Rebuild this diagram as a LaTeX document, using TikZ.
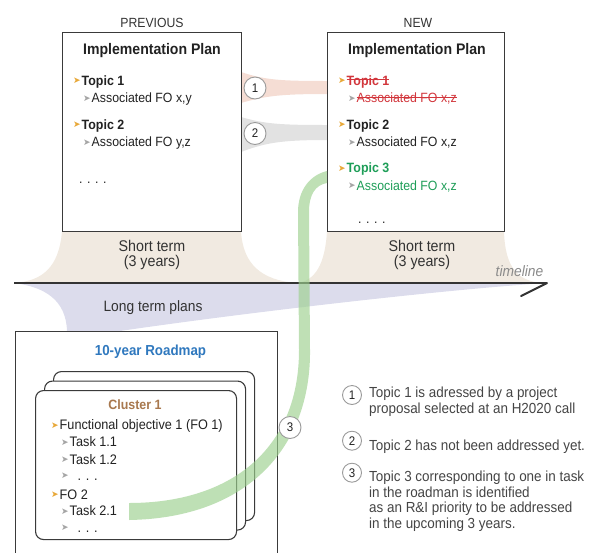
\documentclass[tikz,border=0pt]{standalone}
\usepackage{fontspec}
\setmainfont[FakeStretch=0.92]{Liberation Sans}
\newfontfamily\arrowfont{DejaVu Sans}

\definecolor{txt}{HTML}{222222}
\definecolor{boxline}{HTML}{3A3A3A}
\definecolor{beige}{HTML}{F1EAE1}
\definecolor{lav}{HTML}{DCDCEC}
\definecolor{pinkband}{HTML}{F5DDD4}
\definecolor{grayband}{HTML}{E2E2E2}
\definecolor{greenband}{HTML}{9CD08E}
\definecolor{axis}{HTML}{333333}
\definecolor{gold}{HTML}{E8A838}
\definecolor{bulgray}{HTML}{A5A5A5}
\definecolor{dropred}{HTML}{D2363C}
\definecolor{newgreen}{HTML}{1E9E58}
\definecolor{mapblue}{HTML}{2F78BE}
\definecolor{clbrown}{HTML}{A8784E}
\definecolor{legendtxt}{HTML}{444444}
\definecolor{numline}{HTML}{9A9A9A}
\definecolor{tlgray}{HTML}{8A8A8A}

\newcommand{\fsz}[1]{\fontsize{#1}{#1}\selectfont}
\newcommand{\bul}[1]{\raisebox{1.2pt}{\arrowfont\fontsize{9}{9}\selectfont\textcolor{#1}{➤}}\kern1pt}
\newlength{\strikelen}
\newcommand{\strike}[1]{\settowidth{\strikelen}{#1}\rlap{\rule[0.36em]{\strikelen}{0.9pt}}#1}

\begin{document}
\begin{tikzpicture}[x=1pt, y=-1pt]
        \tikzstyle{every node}=[inner sep=0pt, text=txt]
        \tikzstyle{planbox}=[draw=boxline, line width=0.9pt, fill=white, anchor=north west, minimum height=199pt]
        \tikzstyle{card}=[draw=boxline, line width=1.1pt, fill=white, rounded corners=8pt, anchor=north west, minimum width=201pt, minimum height=149pt]
        \tikzstyle{num}=[circle, draw=numline, line width=0.9pt, fill=white, minimum size=22pt, font=\fsz{12.5}]
        \tikzstyle{item}=[anchor=base west, font=\fsz{13.4}]
        \tikzstyle{topic}=[anchor=base west, font=\bfseries\fsz{13.5}]
        \tikzstyle{task}=[anchor=base west, font=\fsz{13.8}]
        \tikzstyle{title}=[anchor=base, font=\bfseries\fsz{15.3}]
        \tikzstyle{term}=[anchor=base, font=\fsz{15.5}, text=axis]
        \tikzstyle{legend}=[anchor=base west, align=left, font=\fontsize{14.6}{15.5}\selectfont, text=legendtxt]

        \useasboundingbox (0,0) rectangle (599,552);

% Short term / long term areas around the timeline, then the topic bands
        \fill[beige] (62,231) -- (241,231) .. controls (243,265) and (262,280) .. (296,283) -- (14,283) .. controls (42,281) and (59,268) .. (62,231) -- cycle;
        \fill[beige] (327,231) -- (504,231) .. controls (505,268) and (518,281) .. (542,283) -- (298,283) .. controls (315,280) and (325,265) .. (327,231) -- cycle;
        \fill[lav] (14,283) -- (547,283) .. controls (450,289) and (250,312) .. (120,331) -- (67,331) .. controls (66,300) and (45,287) .. (14,283) -- cycle;
        \fill[pinkband] (241,72) .. controls (265,80) and (280,81) .. (327,81) -- (327,94) .. controls (280,94) and (265,96) .. (241,103) -- cycle;
        \fill[grayband] (241,117) .. controls (265,124) and (280,125) .. (327,125) -- (327,140) .. controls (280,140) and (265,143) .. (241,152) -- cycle;

        \node[anchor=base, font=\fsz{13.3}, text=axis] (prevlbl) at (152,27) {PREVIOUS};
        \node[anchor=base, font=\fsz{13.3}, text=axis] (newlbl) at (418,27) {NEW};
        \node[planbox, minimum width=179pt] (prev) at (62,32) {};
        \node[planbox, minimum width=177pt] (new) at (327,32) {};

        \node[title] (prevtitle) at (152,54) {Implementation Plan};
        \node[topic] (pt1) at (73,85) {\bul{gold}Topic 1};
        \node[item] (pf1) at (83,102.7) {\bul{bulgray}Associated FO x,y};
        \node[topic] (pt2) at (73,129) {\bul{gold}Topic 2};
        \node[item] (pf2) at (83,146.7) {\bul{bulgray}Associated FO y,z};
        \node[item] (pdots) at (79,183) {. . . .};

        \node[title] (newtitle) at (417,54) {Implementation Plan};
        \node[topic, text=dropred] (nt1) at (338,85) {\bul{gold}\strike{Topic 1}};
        \node[item, text=dropred] (nf1) at (348,102.7) {\bul{bulgray}\strike{Associated FO x,z}};
        \node[topic] (nt2) at (338,129) {\bul{gold}Topic 2};
        \node[item] (nf2) at (348,146.7) {\bul{bulgray}Associated FO x,z};
        \node[topic, text=newgreen] (nt3) at (338,172.3) {\bul{gold}Topic 3};
        \node[item, text=newgreen] (nf3) at (348,190) {\bul{bulgray}Associated FO x,z};
        \node[item] (ndots) at (358,223) {. . . .};

        \node[term] (prevst) at (152,251) {Short term};
        \node[term] (prevyr) at (152,266) {(3 years)};
        \node[term] (newst) at (422,251) {Short term};
        \node[term] (newyr) at (422,266) {(3 years)};
        \node[anchor=base, font=\itshape\fsz{15}, text=tlgray] (tl) at (519.5,276.7) {timeline};

        \coordinate (t0) at (14,283);
        \coordinate (t1) at (547,283);
        \coordinate (t2) at (521,296);
        \draw[axis, line width=2.6pt] (t0) -- (t1);
        \draw[axis, line width=2pt, line cap=round] (t1) -- (t2);
        \node[anchor=base, font=\fsz{15}, text=axis] (lt) at (153,311.7) {Long term plans};

        \node[draw=boxline, line width=0.9pt, fill=white, anchor=north west, minimum width=262pt, minimum height=240pt] (roadmap) at (15,331) {};
        \node[anchor=base, font=\bfseries\fsz{14.5}, text=mapblue] (rmtitle) at (150.5,355) {10-year Roadmap};
        \node[card] (card3) at (53,371) {};
        \node[card] (card2) at (44,380.5) {};
        \node[card] (card1) at (35,390) {};
        \node[anchor=base, font=\bfseries\fsz{13.5}, text=clbrown] (cl1) at (135,409) {Cluster 1};
        \node[task] (fo1) at (51,429.3) {\bul{gold}Functional objective 1 (FO 1)};
        \node[task] (t11) at (61,446.7) {\bul{bulgray}Task 1.1};
        \node[task] (t12) at (61,464) {\bul{bulgray}Task 1.2};
        \node[task] (t1x) at (61,480) {\bul{bulgray}\hspace{8pt}. . .};
        \node[task] (fo2) at (51,499) {\bul{gold}FO 2};
        \node[task] (t21) at (61,515.7) {\bul{bulgray}Task 2.1};
        \node[task] (t2x) at (61,532) {\bul{bulgray}\hspace{8pt}. . .};

        \fill[greenband, opacity=0.65] (327,171) .. controls (310,175) and (298,190) .. (298,212) -- (299,350) .. controls (299,450) and (230,503) .. (129,503) -- (129,520) .. controls (250,518) and (311,445) .. (310,350) -- (309,212) .. controls (309,195) and (315,185) .. (327,183) -- cycle;

        \node[num] (n1) at (255,88) {1};
        \node[num] (n2) at (255,133.5) {2};
        \node[num] (n3) at (290,427.5) {3};

        \node[num, minimum size=19pt] (k1) at (352,395) {1};
        \node[num, minimum size=19pt] (k2) at (352,440.7) {2};
        \node[num, minimum size=19pt] (k3) at (352,472.7) {3};
        \node[legend] (l1) at (369,413.3) {Topic 1 is adressed by a project\\proposal selected at an H2020 call};
        \node[legend] (l2) at (369,450) {Topic 2 has not been addressed yet.};
        \node[legend] (l3) at (369,528.2) {Topic 3 corresponding to one in task\\in the roadman is identified\\as an R\&I priority to be addressed\\in the upcoming 3 years.};
    \end{tikzpicture}
\end{document}
